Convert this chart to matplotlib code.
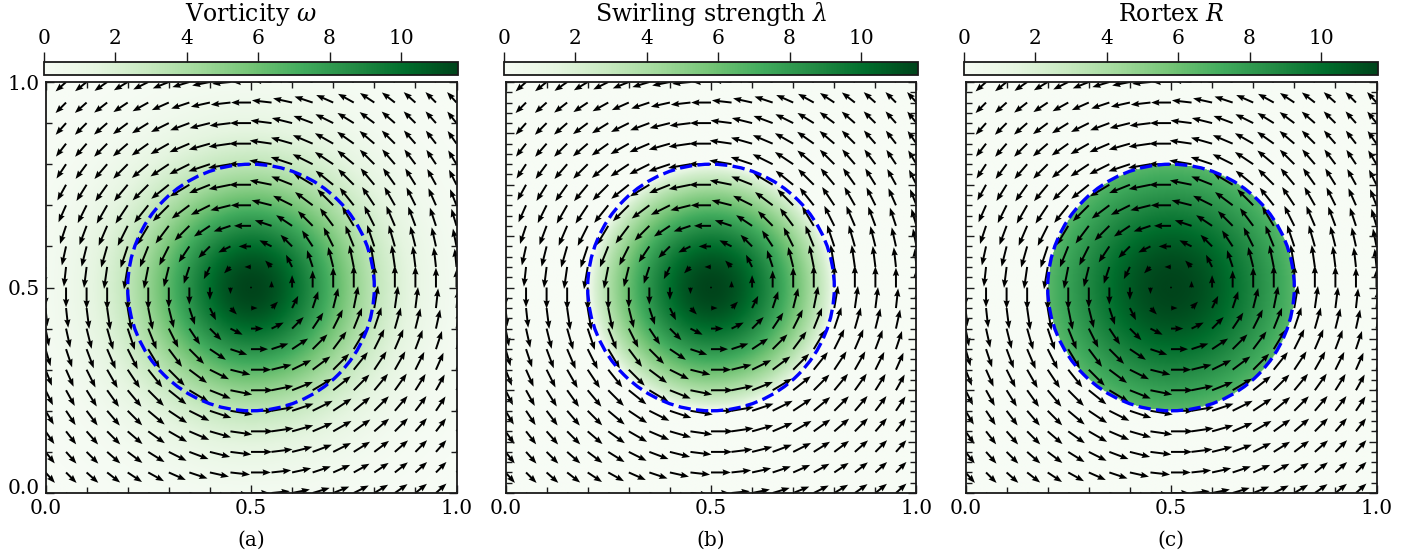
import numpy as np
import matplotlib
matplotlib.use("Agg")
import matplotlib.pyplot as plt
from matplotlib.ticker import MultipleLocator
from matplotlib.patches import Circle
from matplotlib.transforms import ScaledTranslation

plt.rcParams["font.family"] = ["DejaVu Serif"]
plt.rcParams["mathtext.fontset"] = "dejavuserif"

# Lamb-Oseen vortex parameters
center = (0.5, 0.5)
r_peak = 0.3           # radius of maximum swirl velocity (dashed circle)
omega_peak = 11.6      # vorticity at the vortex centre
vmax_color = 11.6
cbar_ticks = [0, 2, 4, 6, 8, 10]
axis_ticks = [0.0, 0.5, 1.0]
titles = [r"Vorticity $\omega$", r"Swirling strength $\lambda$", r"Rortex $R$"]
panel_tags = ["(a)", "(b)", "(c)"]
n_arrows = 21
n_pixels = 500

r_core = r_peak / 1.12091
circulation = np.pi * r_core**2 * omega_peak


def swirl(r):
    r = np.maximum(r, 1e-9)
    return circulation / (2 * np.pi * r) * (1 - np.exp(-(r / r_core) ** 2))


def fields(x, y):
    dx, dy = x - center[0], y - center[1]
    r = np.hypot(dx, dy)
    rs = np.maximum(r, 1e-9)
    vt = swirl(rs)
    omega = omega_peak * np.exp(-(rs / r_core) ** 2)
    rot = np.where(r < 1e-9, omega_peak / 2, vt / rs)   # v/r
    shear = omega - rot                                  # dv/dr
    lam = 2 * np.sqrt(np.clip(rot * shear, 0, None))
    rortex = np.where(shear > 0, 2 * rot, 0.0)
    u = -vt * dy / rs
    v = vt * dx / rs
    return omega, lam, rortex, u, v


gx = np.linspace(0, 1, n_pixels)
GX, GY = np.meshgrid(gx, gx)
omega, lam, rortex, _, _ = fields(GX, GY)
maps = [omega, lam, rortex]

ax_pts = np.linspace(0, 1, n_arrows)
AX, AY = np.meshgrid(ax_pts, ax_pts)
_, _, _, U, V = fields(AX, AY)

W, H = 1424, 556
fig = plt.figure(figsize=(W / 100, H / 100), dpi=100)

lefts = [44, 504, 964]
ax_w, ax_top, ax_bot = 414, 82, 493
cb_top, cb_bot = 62, 75.5
tick_fs = 14.5
title_fs = 17
edge = "#1a1a1a"

for i in range(3):
    ax = fig.add_axes([lefts[i] / W, 1 - ax_bot / H, ax_w / W, (ax_bot - ax_top) / H])
    im = ax.imshow(maps[i], extent=[0, 1, 0, 1], origin="lower", cmap="Greens",
                   vmin=0, vmax=vmax_color, interpolation="bilinear")
    ax.quiver(AX, AY, U, V, pivot="tail", scale_units="xy", scale=18,
              width=0.0048, headwidth=3.2, headlength=4.2, headaxislength=3.8,
              color="black")
    ax.add_patch(Circle(center, r_peak, fill=False, edgecolor="#0000ff",
                        linestyle="--", linewidth=2.4))
    ax.set_xlim(0, 1)
    ax.set_ylim(0, 1)
    ax.set_xticks(axis_ticks)
    ax.xaxis.set_minor_locator(MultipleLocator(0.1))
    if i == 0:
        ax.set_yticks(axis_ticks)
        ax.yaxis.set_minor_locator(MultipleLocator(0.1))
    else:
        ax.yaxis.set_major_locator(MultipleLocator(0.125))
        ax.yaxis.set_minor_locator(MultipleLocator(0.025))
        ax.set_yticklabels([])
    ax.tick_params(which="both", direction="in", top=True, right=True,
                   labelsize=tick_fs, color=edge)
    ax.tick_params(axis="x", pad=4.5)
    ax.tick_params(axis="y", pad=4)
    ax.tick_params(which="major", length=6, width=1)
    ax.tick_params(which="minor", length=4, width=1)
    for s in ax.spines.values():
        s.set_linewidth(1.3)
        s.set_color(edge)
    if i == 0:
        # lift the lowest y label so it clears the x label at the corner
        lbl = ax.get_yticklabels()[0]
        lbl.set_transform(lbl.get_transform()
                          + ScaledTranslation(0, 4.5 / 72, fig.dpi_scale_trans))

    cax = fig.add_axes([lefts[i] / W, 1 - cb_bot / H, ax_w / W, (cb_bot - cb_top) / H])
    cb = fig.colorbar(im, cax=cax, orientation="horizontal")
    cb.set_ticks(cbar_ticks)
    cax.xaxis.set_ticks_position("top")
    cax.tick_params(direction="out", length=7, width=1, labelsize=tick_fs,
                    pad=3, color=edge)
    cb.outline.set_linewidth(1.3)
    cb.outline.set_edgecolor(edge)

    xc = (lefts[i] + ax_w / 2) / W
    fig.text(xc, 1 - 21 / H, titles[i], ha="center", va="baseline",
             fontsize=title_fs)
    fig.text(xc, 1 - 540 / H, panel_tags[i], ha="center", va="center",
             fontsize=tick_fs)

fig.savefig("out.png", dpi=100)
